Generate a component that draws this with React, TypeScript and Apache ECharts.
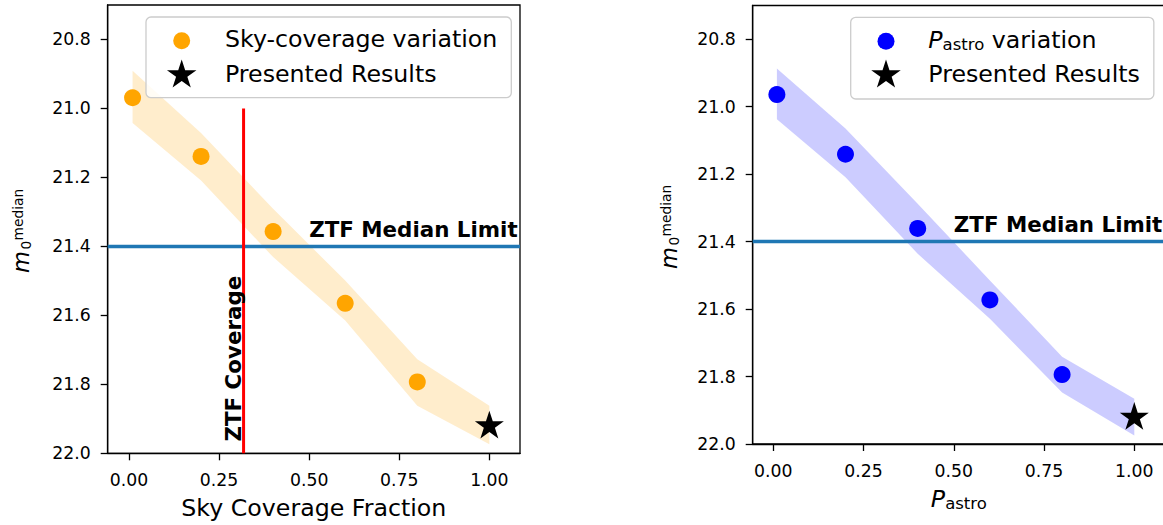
import React, { useEffect, useRef } from 'react';
import * as echarts from 'echarts';

// ---------- data ----------
const xTicks = [0, 0.25, 0.5, 0.75, 1.0];
const yTicks = [20.8, 21.0, 21.2, 21.4, 21.6, 21.8, 22.0];

const skyFraction = [0.01, 0.2, 0.4, 0.6, 0.8];
const skyMedian = [20.969, 21.139, 21.357, 21.565, 21.793];
const skyBandX = [0.01, 0.2, 0.4, 0.6, 0.8, 1.0];
const skyBandUpper = [20.891, 21.071, 21.291, 21.499, 21.727, 21.862];
const skyBandLower = [21.042, 21.209, 21.431, 21.615, 21.862, 21.974];

const pastroValues = [0.01, 0.2, 0.4, 0.6, 0.8];
const pastroMedian = [20.964, 21.141, 21.361, 21.573, 21.794];
const pastroBandX = [0.01, 0.2, 0.4, 0.6, 0.8, 1.0];
const pastroBandUpper = [20.887, 21.065, 21.288, 21.515, 21.741, 21.866];
const pastroBandLower = [21.037, 21.209, 21.436, 21.629, 21.847, 21.975];

const presentedX = [1.0];
const presentedLeft = [21.921];
const presentedRight = [21.921];

const ztfMedianLimit = 21.4;
const ztfCoverage = 0.318;
const ztfCoverageRange = [21.0, 22.0];

const medianLabelPos = [0.5, 21.35];
const coverageLabelPos = [0.29, 21.966];

const yMin = 20.7;
const yMax = 22.0;

// ---------- styles ----------
const FONT = 'DejaVu Sans';
const BIG = 23.7;
const TICK = 17.3;
const BOLD = 21.4;

function starIcon(): string {
  const R = 50;
  const r = R * 0.381966;
  let d = 'M0 0M100 100';
  for (let k = 0; k < 10; k++) {
    const ang = -Math.PI / 2 + (k * Math.PI) / 5;
    const rad = k % 2 === 0 ? R : r;
    const x = 50 + rad * Math.cos(ang);
    const y = 50 + rad * Math.sin(ang);
    d += (k === 0 ? 'M' : 'L') + x.toFixed(2) + ' ' + y.toFixed(2);
  }
  return 'path://' + d + 'Z';
}
const STAR = starIcon();
const LEGEND_CIRCLE = 'path://M0 0M31 31M24 15.5A8.5 8.5 0 1 1 7 15.5A8.5 8.5 0 1 1 24 15.5Z';

const pRich = {
  p: { fontStyle: 'italic', fontSize: BIG, fontFamily: FONT, color: '#000', lineHeight: 26 },
  s: { fontSize: 16.5, fontFamily: FONT, color: '#000', verticalAlign: 'bottom', lineHeight: 15 },
};

function xAxis(gridIndex: number, min: number, max: number, name: string, nameGap: number, rich?: any) {
  return {
    type: 'value',
    gridIndex,
    min,
    max,
    name,
    nameLocation: 'middle',
    nameGap,
    nameTextStyle: { fontSize: BIG, color: '#000', fontFamily: FONT, rich },
    axisLine: { show: true, onZero: false, lineStyle: { color: '#000', width: 1.3 } },
    axisTick: { show: true, length: 7, customValues: xTicks, lineStyle: { color: '#000', width: 1.3 } },
    axisLabel: {
      show: true,
      customValues: xTicks,
      formatter: (v: number) => v.toFixed(2),
      margin: 18,
      fontSize: TICK,
      color: '#000',
      fontFamily: FONT,
    },
    splitLine: { show: false },
  };
}

function yAxis(gridIndex: number) {
  return {
    type: 'value',
    gridIndex,
    min: yMin,
    max: yMax,
    inverse: true,
    axisLine: { show: true, onZero: false, lineStyle: { color: '#000', width: 1.3 } },
    axisTick: { show: true, length: 7, customValues: yTicks, lineStyle: { color: '#000', width: 1.3 } },
    axisLabel: {
      show: true,
      customValues: yTicks,
      formatter: (v: number) => v.toFixed(1),
      margin: 17,
      fontSize: TICK,
      color: '#000',
      fontFamily: FONT,
    },
    splitLine: { show: false },
  };
}

function band(idx: number, xs: number[], up: number[], lo: number[], fill: string) {
  return {
    type: 'custom',
    xAxisIndex: idx,
    yAxisIndex: idx,
    silent: true,
    z: 1,
    data: xs.map((x, i) => [x, up[i], lo[i]]),
    encode: { x: 0, y: [1, 2] },
    renderItem: (params: any, api: any) => {
      if (params.dataIndex !== 0) return null;
      const top = xs.map((x, i) => api.coord([x, up[i]]));
      const bot = xs.map((x, i) => api.coord([x, lo[i]])).reverse();
      return { type: 'polygon', shape: { points: top.concat(bot) }, style: { fill } };
    },
  };
}

function medianLine() {
  return {
    silent: true,
    symbol: ['none', 'none'],
    label: { show: false },
    emphasis: { disabled: true },
    lineStyle: { color: '#1f77b4', width: 3.3, type: 'solid', opacity: 1 },
    data: [{ yAxis: ztfMedianLimit }],
  };
}

function textSeries(idx: number, pos: number[], text: string, rotate: number) {
  return {
    type: 'scatter',
    xAxisIndex: idx,
    yAxisIndex: idx,
    silent: true,
    z: 6,
    symbolSize: 0.1,
    itemStyle: { color: 'transparent', opacity: 1 },
    data: [pos],
    label: {
      show: true,
      position: 'inside',
      formatter: text,
      rotate,
      align: 'left',
      verticalAlign: 'middle',
      fontSize: BOLD,
      fontWeight: 'bold',
      color: '#000000',
      opacity: 1,
      fontFamily: FONT,
    },
  };
}

function yLabel(x: number, y: number) {
  const base = { fontFamily: FONT, fill: '#000', align: 'left', verticalAlign: 'middle' };
  return {
    type: 'group',
    x,
    y,
    rotation: Math.PI / 2,
    silent: true,
    children: [
      { type: 'text', style: { ...base, text: 'm', x: 0, y: -7.8, fontSize: 22.5, fontStyle: 'italic' } },
      { type: 'text', style: { ...base, text: '0', x: 23.5, y: -2.7, fontSize: 13.8 } },
      { type: 'text', style: { ...base, text: 'median', x: 32.5, y: -11.5, fontSize: 13.8 } },
    ],
  };
}

function legend(left: number, top: number, first: string, pad: number[], textPad: number, gap: number) {
  return {
    left,
    top,
    orient: 'vertical',
    selectedMode: false,
    data: [
      { name: first, icon: LEGEND_CIRCLE },
      { name: 'Presented Results', icon: STAR },
    ],
    itemWidth: 31,
    itemHeight: 31,
    itemGap: gap,
    padding: pad,
    backgroundColor: 'rgba(255,255,255,0.8)',
    borderColor: '#cccccc',
    borderWidth: 1.3,
    borderRadius: 5,
    formatter: (name: string) => (name === 'Pastro variation' ? '{p|P}{s|astro} variation' : name),
    textStyle: { fontSize: BIG, color: '#000', fontFamily: FONT, padding: [0, 0, 3, textPad], rich: pRich },
  };
}

export default function App() {
  const ref = useRef<HTMLDivElement>(null);
  useEffect(() => {
    if (!ref.current) return;
    const chart = echarts.init(ref.current, undefined, { renderer: 'svg' });
    const gridBase = {
      show: true,
      borderColor: '#000',
      borderWidth: 1.3,
      backgroundColor: 'transparent',
      containLabel: false,
      outerBoundsMode: 'none',
    };
    const option: any = {
      animation: false,
      backgroundColor: '#ffffff',
      textStyle: { fontFamily: FONT },
      grid: [
        { ...gridBase, left: 107.7, top: 5, width: 412.3, height: 448.3 },
        { ...gridBase, left: 752.7, top: 5.5, width: 412.3, height: 438.5 },
      ],
      xAxis: [
        xAxis(0, -0.059, 1.085, 'Sky Coverage Fraction', 43),
        xAxis(1, -0.057, 1.085, '{p|P}{s|astro}', 41.5, pRich),
      ],
      yAxis: [yAxis(0), yAxis(1)],
      legend: [
        legend(146, 17, 'Sky-coverage variation', [8.2, 14, 7.2, 20.2], 22.8, 3.3),
        legend(850.7, 17.3, 'Pastro variation', [8.5, 14, 8.5, 19.8], 21.8, 2.7),
      ],
      graphic: [yLabel(29, 273), yLabel(677, 269)],
      series: [
        band(0, skyBandX, skyBandUpper, skyBandLower, 'rgba(255,165,0,0.2)'),
        {
          type: 'scatter',
          name: 'Sky-coverage variation',
          xAxisIndex: 0,
          yAxisIndex: 0,
          z: 4,
          symbol: 'circle',
          symbolSize: 17,
          itemStyle: { color: '#FFA500', opacity: 1 },
          data: skyFraction.map((x, i) => [x, skyMedian[i]]),
          markLine: medianLine(),
        },
        {
          type: 'line',
          name: 'ZTF Coverage',
          xAxisIndex: 0,
          yAxisIndex: 0,
          z: 5,
          silent: true,
          symbol: 'none',
          lineStyle: { color: '#FF0000', width: 3, opacity: 1 },
          data: ztfCoverageRange.map((y) => [ztfCoverage, y]),
        },
        {
          type: 'scatter',
          name: 'Presented Results',
          xAxisIndex: 0,
          yAxisIndex: 0,
          z: 5,
          symbol: STAR,
          symbolSize: 30.5,
          itemStyle: { color: '#000', opacity: 1 },
          data: presentedX.map((x, i) => [x, presentedLeft[i]]),
        },
        textSeries(0, medianLabelPos, 'ZTF Median Limit', 0),
        textSeries(0, coverageLabelPos, 'ZTF Coverage', 90),

        band(1, pastroBandX, pastroBandUpper, pastroBandLower, 'rgba(0,0,255,0.2)'),
        {
          type: 'scatter',
          name: 'Pastro variation',
          xAxisIndex: 1,
          yAxisIndex: 1,
          z: 4,
          symbol: 'circle',
          symbolSize: 17,
          itemStyle: { color: '#0000FF', opacity: 1 },
          data: pastroValues.map((x, i) => [x, pastroMedian[i]]),
          markLine: medianLine(),
        },
        {
          type: 'scatter',
          name: 'Presented Results',
          xAxisIndex: 1,
          yAxisIndex: 1,
          z: 5,
          symbol: STAR,
          symbolSize: 30.5,
          itemStyle: { color: '#000', opacity: 1 },
          data: presentedX.map((x, i) => [x, presentedRight[i]]),
        },
        textSeries(1, medianLabelPos, 'ZTF Median Limit', 0),
      ],
    };
    chart.setOption(option);
    return () => chart.dispose();
  }, []);
  return (
    <div
      ref={ref}
      style={{ position: 'fixed', left: 0, top: 0, width: 1163, height: 525, background: '#fff' }}
    />
  );
}
